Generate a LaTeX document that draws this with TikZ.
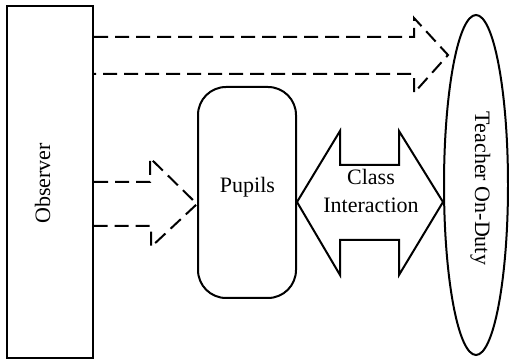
\documentclass[tikz,border=0pt]{standalone}
\usepackage{fontspec}
\setmainfont{Liberation Serif}
\usetikzlibrary{shapes.geometric}
\begin{document}
\begin{tikzpicture}[x=1pt,y=-1pt,
  outl/.style={draw=black, line width=2pt},
  dasharrow/.style={draw=black, line width=2pt, dash pattern=on 14pt off 7pt, line join=miter},
  lbl/.style={font=\fontsize{22}{28}\selectfont, inner sep=0pt}]
\useasboundingbox (0,0) rectangle (509,363);
% Observer box
\node[outl, rectangle, minimum width=86pt, minimum height=352pt, inner sep=0pt] (observer) at (50,182) {};
\node[lbl, rotate=90, anchor=base] (observerText) at (50,183.5) {Observer};
% Pupils
\node[outl, rectangle, rounded corners=28pt, minimum width=98pt, minimum height=211pt, inner sep=0pt] (pupils) at (247,192.5) {};
\node[lbl, anchor=base] (pupilsText) at (247.5,193) {Pupils};
% Teacher ellipse
\node[outl, ellipse, minimum width=64pt, minimum height=340pt, inner sep=0pt] (teacher) at (476,185) {};
\node[lbl, rotate=-90, anchor=base] (teacherText) at (475,188.5) {Teacher On-Duty};
% dashed block arrow Observer -> Teacher
\draw[dasharrow] (observer.east |- 0,37) -- (414,37) -- (414,18) -- (448,55) -- (414,93) -- (414,74) -- (observer.east |- 0,74);
% dashed block arrow Observer -> Pupils
\draw[dasharrow] (observer.east |- 0,182) -- (150,182) -- (150,158) -- (pupils.west |- 0,204) -- (151,247) -- (151,226) -- (observer.east |- 0,226);
% Class interaction double arrow
\draw[outl, line join=miter] (pupils.east |- 0,202) -- (340,131) -- (340,165) -- (399,165) -- (399,131) -- (teacher.west |- 0,202) -- (399,275) -- (399,240) -- (340,240) -- (340,275) -- cycle;
\node[lbl, anchor=base] (classText) at (371,185) {Class};
\node[lbl, anchor=base] (interText) at (371,213) {Interaction};
\end{tikzpicture}
\end{document}
